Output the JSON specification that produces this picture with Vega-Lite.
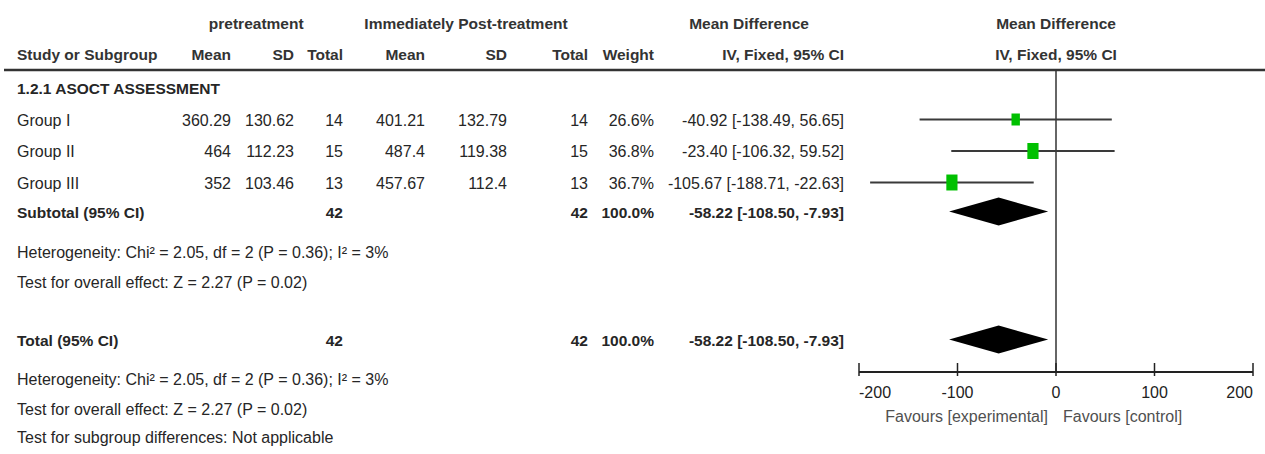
{
  "$schema": "https://vega.github.io/schema/vega-lite/v6.json",
  "width": 1265,
  "height": 454,
  "padding": 0,
  "autosize": {"type": "none"},
  "background": "white",
  "config": {
    "view": {"stroke": null},
    "text": {"font": "Liberation Sans", "fontSize": 16, "baseline": "middle", "color": "#262626", "dy": 1}
  },
  "datasets": {
    "rows": [
      {"row": 4, "kind": "study", "label": "Group I", "m1": 360.29, "s1": 130.62, "n1": 14, "m2": 401.21, "s2": 132.79, "n2": 14, "weight": 0.266, "md": -40.92, "lo": -138.49, "hi": 56.65, "ci": "-40.92 [-138.49, 56.65]"},
      {"row": 5, "kind": "study", "label": "Group II", "m1": 464, "s1": 112.23, "n1": 15, "m2": 487.4, "s2": 119.38, "n2": 15, "weight": 0.368, "md": -23.40, "lo": -106.32, "hi": 59.52, "ci": "-23.40 [-106.32, 59.52]"},
      {"row": 6, "kind": "study", "label": "Group III", "m1": 352, "s1": 103.46, "n1": 13, "m2": 457.67, "s2": 112.4, "n2": 13, "weight": 0.367, "md": -105.67, "lo": -188.71, "hi": -22.63, "ci": "-105.67 [-188.71, -22.63]"},
      {"row": 7, "kind": "pooled", "label": "Subtotal (95% CI)", "n1": 42, "n2": 42, "weight": 1.0, "md": -58.22, "lo": -108.50, "hi": -7.93, "ci": "-58.22 [-108.50, -7.93]"},
      {"row": 10, "kind": "pooled", "label": "Total (95% CI)", "n1": 42, "n2": 42, "weight": 1.0, "md": -58.22, "lo": -108.50, "hi": -7.93, "ci": "-58.22 [-108.50, -7.93]"}
    ],
    "notes": [
      {"row": 3, "kind": "section", "text": "1.2.1 ASOCT ASSESSMENT"},
      {"row": 8, "kind": "note", "text": "Heterogeneity: Chi² = 2.05, df = 2 (P = 0.36); I² = 3%"},
      {"row": 9, "kind": "note", "text": "Test for overall effect: Z = 2.27 (P = 0.02)"},
      {"row": 14, "kind": "note", "text": "Heterogeneity: Chi² = 2.05, df = 2 (P = 0.36); I² = 3%"},
      {"row": 16, "kind": "note", "text": "Test for overall effect: Z = 2.27 (P = 0.02)"},
      {"row": 18, "kind": "note", "text": "Test for subgroup differences: Not applicable"}
    ],
    "headers": [
      {"row": 0, "col": 1.4, "text": "pretreatment"},
      {"row": 0, "col": 4.5, "text": "Immediately Post-treatment"},
      {"row": 0, "col": 7.5, "text": "Mean Difference"},
      {"row": 1, "col": 0, "text": "Study or Subgroup"},
      {"row": 1, "col": 1, "text": "Mean"},
      {"row": 1, "col": 2, "text": "SD"},
      {"row": 1, "col": 3, "text": "Total"},
      {"row": 1, "col": 4, "text": "Mean"},
      {"row": 1, "col": 5, "text": "SD"},
      {"row": 1, "col": 6, "text": "Total"},
      {"row": 1, "col": 7, "text": "Weight"},
      {"row": 1, "col": 8, "text": "IV, Fixed, 95% CI"}
    ],
    "plotHeaders": [
      {"row": 0, "text": "Mean Difference"},
      {"row": 1, "text": "IV, Fixed, 95% CI"}
    ],
    "ticks": [{"v": -200}, {"v": -100}, {"v": 0}, {"v": 100}, {"v": 200}],
    "favours": [
      {"side": "left", "text": "Favours [experimental]"},
      {"side": "right", "text": "Favours [control]"}
    ],
    "frame": [{"part": "line"}]
  },
  "layer": [
    {
      "layer": [
        {
          "data": {"name": "frame"},
          "mark": {"type": "rule", "color": "#333333", "strokeWidth": 2.5},
          "encoding": {
            "x": {"datum": -1, "type": "quantitative", "scale": {"domain": [-1,0,1,2,3,4,5,6,7,8,9], "range": [4,17,231,294,343,425,507,588,654,844,1265], "nice": false, "zero": false}, "axis": null},
            "x2": {"datum": 9},
            "y": {"datum": 2, "type": "quantitative", "scale": {"domain": [0,1,2,3,4,5,6,7,8,9,10,11,12,13,14,15,16,17,18], "range": [23,54,70,87.5,119.5,151,182.5,211.5,252,282,339.5,363,372,376,379,391.5,409,416,437], "nice": false, "zero": false}, "axis": null}
          }
        },
        {
          "data": {"name": "headers"},
          "transform": [{"filter": "datum.row === 0"}],
          "mark": {"type": "text", "align": "center", "fontWeight": "bold", "fontSize": 15.5, "color": "#333333"},
          "encoding": {
            "x": {"field": "col", "type": "quantitative", "scale": {"domain": [-1,0,1,2,3,4,5,6,7,8,9], "range": [4,17,231,294,343,425,507,588,654,844,1265], "nice": false, "zero": false}, "axis": null},
            "y": {"field": "row", "type": "quantitative", "scale": {"domain": [0,1,2,3,4,5,6,7,8,9,10,11,12,13,14,15,16,17,18], "range": [23,54,70,87.5,119.5,151,182.5,211.5,252,282,339.5,363,372,376,379,391.5,409,416,437], "nice": false, "zero": false}, "axis": null},
            "text": {"field": "text", "type": "nominal"}
          }
        },
        {
          "data": {"name": "headers"},
          "transform": [{"filter": "datum.row === 1 && datum.col === 0"}],
          "mark": {"type": "text", "align": "left", "fontWeight": "bold", "fontSize": 15.5, "color": "#333333"},
          "encoding": {
            "x": {"field": "col", "type": "quantitative", "scale": {"domain": [-1,0,1,2,3,4,5,6,7,8,9], "range": [4,17,231,294,343,425,507,588,654,844,1265], "nice": false, "zero": false}, "axis": null},
            "y": {"field": "row", "type": "quantitative", "scale": {"domain": [0,1,2,3,4,5,6,7,8,9,10,11,12,13,14,15,16,17,18], "range": [23,54,70,87.5,119.5,151,182.5,211.5,252,282,339.5,363,372,376,379,391.5,409,416,437], "nice": false, "zero": false}, "axis": null},
            "text": {"field": "text", "type": "nominal"}
          }
        },
        {
          "data": {"name": "headers"},
          "transform": [{"filter": "datum.row === 1 && datum.col > 0"}],
          "mark": {"type": "text", "align": "right", "fontWeight": "bold", "fontSize": 15.5, "color": "#333333"},
          "encoding": {
            "x": {"field": "col", "type": "quantitative", "scale": {"domain": [-1,0,1,2,3,4,5,6,7,8,9], "range": [4,17,231,294,343,425,507,588,654,844,1265], "nice": false, "zero": false}, "axis": null},
            "y": {"field": "row", "type": "quantitative", "scale": {"domain": [0,1,2,3,4,5,6,7,8,9,10,11,12,13,14,15,16,17,18], "range": [23,54,70,87.5,119.5,151,182.5,211.5,252,282,339.5,363,372,376,379,391.5,409,416,437], "nice": false, "zero": false}, "axis": null},
            "text": {"field": "text", "type": "nominal"}
          }
        },
        {
          "data": {"name": "rows"},
          "transform": [{"filter": "datum.kind === 'study'"}],
          "mark": {"type": "text", "align": "left"},
          "encoding": {
            "x": {"datum": 0, "type": "quantitative", "scale": {"domain": [-1,0,1,2,3,4,5,6,7,8,9], "range": [4,17,231,294,343,425,507,588,654,844,1265], "nice": false, "zero": false}, "axis": null},
            "y": {"field": "row", "type": "quantitative", "scale": {"domain": [0,1,2,3,4,5,6,7,8,9,10,11,12,13,14,15,16,17,18], "range": [23,54,70,87.5,119.5,151,182.5,211.5,252,282,339.5,363,372,376,379,391.5,409,416,437], "nice": false, "zero": false}, "axis": null},
            "text": {"field": "label", "type": "nominal"}
          }
        },
        {
          "data": {"name": "rows"},
          "transform": [{"filter": "datum.kind === 'pooled'"}],
          "mark": {"type": "text", "align": "left", "fontWeight": "bold", "fontSize": 15.5},
          "encoding": {
            "x": {"datum": 0, "type": "quantitative", "scale": {"domain": [-1,0,1,2,3,4,5,6,7,8,9], "range": [4,17,231,294,343,425,507,588,654,844,1265], "nice": false, "zero": false}, "axis": null},
            "y": {"field": "row", "type": "quantitative", "scale": {"domain": [0,1,2,3,4,5,6,7,8,9,10,11,12,13,14,15,16,17,18], "range": [23,54,70,87.5,119.5,151,182.5,211.5,252,282,339.5,363,372,376,379,391.5,409,416,437], "nice": false, "zero": false}, "axis": null},
            "text": {"field": "label", "type": "nominal"}
          }
        },
        {
          "data": {"name": "rows"},
          "transform": [{"filter": "datum.kind === 'study'"}],
          "mark": {"type": "text", "align": "right"},
          "encoding": {
            "x": {"datum": 1, "type": "quantitative", "scale": {"domain": [-1,0,1,2,3,4,5,6,7,8,9], "range": [4,17,231,294,343,425,507,588,654,844,1265], "nice": false, "zero": false}, "axis": null},
            "y": {"field": "row", "type": "quantitative", "scale": {"domain": [0,1,2,3,4,5,6,7,8,9,10,11,12,13,14,15,16,17,18], "range": [23,54,70,87.5,119.5,151,182.5,211.5,252,282,339.5,363,372,376,379,391.5,409,416,437], "nice": false, "zero": false}, "axis": null},
            "text": {"field": "m1", "type": "nominal"}
          }
        },
        {
          "data": {"name": "rows"},
          "transform": [{"filter": "datum.kind === 'study'"}],
          "mark": {"type": "text", "align": "right"},
          "encoding": {
            "x": {"datum": 2, "type": "quantitative", "scale": {"domain": [-1,0,1,2,3,4,5,6,7,8,9], "range": [4,17,231,294,343,425,507,588,654,844,1265], "nice": false, "zero": false}, "axis": null},
            "y": {"field": "row", "type": "quantitative", "scale": {"domain": [0,1,2,3,4,5,6,7,8,9,10,11,12,13,14,15,16,17,18], "range": [23,54,70,87.5,119.5,151,182.5,211.5,252,282,339.5,363,372,376,379,391.5,409,416,437], "nice": false, "zero": false}, "axis": null},
            "text": {"field": "s1", "type": "nominal"}
          }
        },
        {
          "data": {"name": "rows"},
          "transform": [{"filter": "datum.kind === 'study'"}],
          "mark": {"type": "text", "align": "right"},
          "encoding": {
            "x": {"datum": 3, "type": "quantitative", "scale": {"domain": [-1,0,1,2,3,4,5,6,7,8,9], "range": [4,17,231,294,343,425,507,588,654,844,1265], "nice": false, "zero": false}, "axis": null},
            "y": {"field": "row", "type": "quantitative", "scale": {"domain": [0,1,2,3,4,5,6,7,8,9,10,11,12,13,14,15,16,17,18], "range": [23,54,70,87.5,119.5,151,182.5,211.5,252,282,339.5,363,372,376,379,391.5,409,416,437], "nice": false, "zero": false}, "axis": null},
            "text": {"field": "n1", "type": "nominal"}
          }
        },
        {
          "data": {"name": "rows"},
          "transform": [{"filter": "datum.kind === 'pooled'"}],
          "mark": {"type": "text", "align": "right", "fontWeight": "bold", "fontSize": 15.5},
          "encoding": {
            "x": {"datum": 3, "type": "quantitative", "scale": {"domain": [-1,0,1,2,3,4,5,6,7,8,9], "range": [4,17,231,294,343,425,507,588,654,844,1265], "nice": false, "zero": false}, "axis": null},
            "y": {"field": "row", "type": "quantitative", "scale": {"domain": [0,1,2,3,4,5,6,7,8,9,10,11,12,13,14,15,16,17,18], "range": [23,54,70,87.5,119.5,151,182.5,211.5,252,282,339.5,363,372,376,379,391.5,409,416,437], "nice": false, "zero": false}, "axis": null},
            "text": {"field": "n1", "type": "nominal"}
          }
        },
        {
          "data": {"name": "rows"},
          "transform": [{"filter": "datum.kind === 'study'"}],
          "mark": {"type": "text", "align": "right"},
          "encoding": {
            "x": {"datum": 4, "type": "quantitative", "scale": {"domain": [-1,0,1,2,3,4,5,6,7,8,9], "range": [4,17,231,294,343,425,507,588,654,844,1265], "nice": false, "zero": false}, "axis": null},
            "y": {"field": "row", "type": "quantitative", "scale": {"domain": [0,1,2,3,4,5,6,7,8,9,10,11,12,13,14,15,16,17,18], "range": [23,54,70,87.5,119.5,151,182.5,211.5,252,282,339.5,363,372,376,379,391.5,409,416,437], "nice": false, "zero": false}, "axis": null},
            "text": {"field": "m2", "type": "nominal"}
          }
        },
        {
          "data": {"name": "rows"},
          "transform": [{"filter": "datum.kind === 'study'"}],
          "mark": {"type": "text", "align": "right"},
          "encoding": {
            "x": {"datum": 5, "type": "quantitative", "scale": {"domain": [-1,0,1,2,3,4,5,6,7,8,9], "range": [4,17,231,294,343,425,507,588,654,844,1265], "nice": false, "zero": false}, "axis": null},
            "y": {"field": "row", "type": "quantitative", "scale": {"domain": [0,1,2,3,4,5,6,7,8,9,10,11,12,13,14,15,16,17,18], "range": [23,54,70,87.5,119.5,151,182.5,211.5,252,282,339.5,363,372,376,379,391.5,409,416,437], "nice": false, "zero": false}, "axis": null},
            "text": {"field": "s2", "type": "nominal"}
          }
        },
        {
          "data": {"name": "rows"},
          "transform": [{"filter": "datum.kind === 'study'"}],
          "mark": {"type": "text", "align": "right"},
          "encoding": {
            "x": {"datum": 6, "type": "quantitative", "scale": {"domain": [-1,0,1,2,3,4,5,6,7,8,9], "range": [4,17,231,294,343,425,507,588,654,844,1265], "nice": false, "zero": false}, "axis": null},
            "y": {"field": "row", "type": "quantitative", "scale": {"domain": [0,1,2,3,4,5,6,7,8,9,10,11,12,13,14,15,16,17,18], "range": [23,54,70,87.5,119.5,151,182.5,211.5,252,282,339.5,363,372,376,379,391.5,409,416,437], "nice": false, "zero": false}, "axis": null},
            "text": {"field": "n2", "type": "nominal"}
          }
        },
        {
          "data": {"name": "rows"},
          "transform": [{"filter": "datum.kind === 'pooled'"}],
          "mark": {"type": "text", "align": "right", "fontWeight": "bold", "fontSize": 15.5},
          "encoding": {
            "x": {"datum": 6, "type": "quantitative", "scale": {"domain": [-1,0,1,2,3,4,5,6,7,8,9], "range": [4,17,231,294,343,425,507,588,654,844,1265], "nice": false, "zero": false}, "axis": null},
            "y": {"field": "row", "type": "quantitative", "scale": {"domain": [0,1,2,3,4,5,6,7,8,9,10,11,12,13,14,15,16,17,18], "range": [23,54,70,87.5,119.5,151,182.5,211.5,252,282,339.5,363,372,376,379,391.5,409,416,437], "nice": false, "zero": false}, "axis": null},
            "text": {"field": "n2", "type": "nominal"}
          }
        },
        {
          "data": {"name": "rows"},
          "transform": [{"filter": "datum.kind === 'study'"}],
          "mark": {"type": "text", "align": "right"},
          "encoding": {
            "x": {"datum": 7, "type": "quantitative", "scale": {"domain": [-1,0,1,2,3,4,5,6,7,8,9], "range": [4,17,231,294,343,425,507,588,654,844,1265], "nice": false, "zero": false}, "axis": null},
            "y": {"field": "row", "type": "quantitative", "scale": {"domain": [0,1,2,3,4,5,6,7,8,9,10,11,12,13,14,15,16,17,18], "range": [23,54,70,87.5,119.5,151,182.5,211.5,252,282,339.5,363,372,376,379,391.5,409,416,437], "nice": false, "zero": false}, "axis": null},
            "text": {"field": "weight", "type": "quantitative", "format": ".1%"}
          }
        },
        {
          "data": {"name": "rows"},
          "transform": [{"filter": "datum.kind === 'pooled'"}],
          "mark": {"type": "text", "align": "right", "fontWeight": "bold", "fontSize": 15.5},
          "encoding": {
            "x": {"datum": 7, "type": "quantitative", "scale": {"domain": [-1,0,1,2,3,4,5,6,7,8,9], "range": [4,17,231,294,343,425,507,588,654,844,1265], "nice": false, "zero": false}, "axis": null},
            "y": {"field": "row", "type": "quantitative", "scale": {"domain": [0,1,2,3,4,5,6,7,8,9,10,11,12,13,14,15,16,17,18], "range": [23,54,70,87.5,119.5,151,182.5,211.5,252,282,339.5,363,372,376,379,391.5,409,416,437], "nice": false, "zero": false}, "axis": null},
            "text": {"field": "weight", "type": "quantitative", "format": ".1%"}
          }
        },
        {
          "data": {"name": "rows"},
          "transform": [{"filter": "datum.kind === 'study'"}],
          "mark": {"type": "text", "align": "right"},
          "encoding": {
            "x": {"datum": 8, "type": "quantitative", "scale": {"domain": [-1,0,1,2,3,4,5,6,7,8,9], "range": [4,17,231,294,343,425,507,588,654,844,1265], "nice": false, "zero": false}, "axis": null},
            "y": {"field": "row", "type": "quantitative", "scale": {"domain": [0,1,2,3,4,5,6,7,8,9,10,11,12,13,14,15,16,17,18], "range": [23,54,70,87.5,119.5,151,182.5,211.5,252,282,339.5,363,372,376,379,391.5,409,416,437], "nice": false, "zero": false}, "axis": null},
            "text": {"field": "ci", "type": "nominal"}
          }
        },
        {
          "data": {"name": "rows"},
          "transform": [{"filter": "datum.kind === 'pooled'"}],
          "mark": {"type": "text", "align": "right", "fontWeight": "bold", "fontSize": 15.5},
          "encoding": {
            "x": {"datum": 8, "type": "quantitative", "scale": {"domain": [-1,0,1,2,3,4,5,6,7,8,9], "range": [4,17,231,294,343,425,507,588,654,844,1265], "nice": false, "zero": false}, "axis": null},
            "y": {"field": "row", "type": "quantitative", "scale": {"domain": [0,1,2,3,4,5,6,7,8,9,10,11,12,13,14,15,16,17,18], "range": [23,54,70,87.5,119.5,151,182.5,211.5,252,282,339.5,363,372,376,379,391.5,409,416,437], "nice": false, "zero": false}, "axis": null},
            "text": {"field": "ci", "type": "nominal"}
          }
        },
        {
          "data": {"name": "notes"},
          "transform": [{"filter": "datum.kind === 'note'"}],
          "mark": {"type": "text", "align": "left"},
          "encoding": {
            "x": {"datum": 0, "type": "quantitative", "scale": {"domain": [-1,0,1,2,3,4,5,6,7,8,9], "range": [4,17,231,294,343,425,507,588,654,844,1265], "nice": false, "zero": false}, "axis": null},
            "y": {"field": "row", "type": "quantitative", "scale": {"domain": [0,1,2,3,4,5,6,7,8,9,10,11,12,13,14,15,16,17,18], "range": [23,54,70,87.5,119.5,151,182.5,211.5,252,282,339.5,363,372,376,379,391.5,409,416,437], "nice": false, "zero": false}, "axis": null},
            "text": {"field": "text", "type": "nominal"}
          }
        },
        {
          "data": {"name": "notes"},
          "transform": [{"filter": "datum.kind === 'section'"}],
          "mark": {"type": "text", "align": "left", "fontWeight": "bold", "fontSize": 15.5},
          "encoding": {
            "x": {"datum": 0, "type": "quantitative", "scale": {"domain": [-1,0,1,2,3,4,5,6,7,8,9], "range": [4,17,231,294,343,425,507,588,654,844,1265], "nice": false, "zero": false}, "axis": null},
            "y": {"field": "row", "type": "quantitative", "scale": {"domain": [0,1,2,3,4,5,6,7,8,9,10,11,12,13,14,15,16,17,18], "range": [23,54,70,87.5,119.5,151,182.5,211.5,252,282,339.5,363,372,376,379,391.5,409,416,437], "nice": false, "zero": false}, "axis": null},
            "text": {"field": "text", "type": "nominal"}
          }
        }
      ]
    },
    {
      "layer": [
        {
          "data": {"name": "frame"},
          "mark": {"type": "rule", "color": "#333333", "strokeWidth": 1.5},
          "encoding": {
            "x": {"datum": 0, "type": "quantitative", "scale": {"domain": [-200, 200], "range": [859, 1253], "nice": false, "zero": false}, "axis": null},
            "y": {"datum": 2, "type": "quantitative", "scale": {"domain": [0,1,2,3,4,5,6,7,8,9,10,11,12,13,14,15,16,17,18], "range": [23,54,70,87.5,119.5,151,182.5,211.5,252,282,339.5,363,372,376,379,391.5,409,416,437], "nice": false, "zero": false}, "axis": null},
            "y2": {"datum": 12}
          }
        },
        {
          "data": {"name": "rows"},
          "transform": [{"filter": "datum.kind === 'study'"}],
          "mark": {"type": "rule", "color": "#3a3a3a", "strokeWidth": 2},
          "encoding": {
            "x": {"field": "lo", "type": "quantitative", "scale": {"domain": [-200, 200], "range": [859, 1253], "nice": false, "zero": false}, "axis": null},
            "x2": {"field": "hi"},
            "y": {"field": "row", "type": "quantitative", "scale": {"domain": [0,1,2,3,4,5,6,7,8,9,10,11,12,13,14,15,16,17,18], "range": [23,54,70,87.5,119.5,151,182.5,211.5,252,282,339.5,363,372,376,379,391.5,409,416,437], "nice": false, "zero": false}, "axis": null}
          }
        },
        {
          "data": {"name": "rows"},
          "transform": [{"filter": "datum.kind === 'study'"}],
          "mark": {"type": "point", "shape": "M-0.7,-1L0.7,-1L0.7,1L-0.7,1Z", "filled": true, "opacity": 1, "color": "#00c000", "strokeWidth": 0},
          "encoding": {
            "x": {"field": "md", "type": "quantitative", "scale": {"domain": [-200, 200], "range": [859, 1253], "nice": false, "zero": false}, "axis": null},
            "y": {"field": "row", "type": "quantitative", "scale": {"domain": [0,1,2,3,4,5,6,7,8,9,10,11,12,13,14,15,16,17,18], "range": [23,54,70,87.5,119.5,151,182.5,211.5,252,282,339.5,363,372,376,379,391.5,409,416,437], "nice": false, "zero": false}, "axis": null},
            "size": {"field": "weight", "type": "quantitative", "scale": {"domain": [0.266, 0.368], "range": [144, 256], "zero": false}, "legend": null}
          }
        },
        {
          "data": {"name": "rows"},
          "transform": [
            {"filter": "datum.kind === 'pooled'"},
            {"calculate": "datum.hi - datum.lo", "as": "span"}
          ],
          "mark": {"type": "point", "shape": "M-1,0L0,-0.283L1,0L0,0.283Z", "filled": true, "opacity": 1, "color": "#000000", "strokeWidth": 0},
          "encoding": {
            "x": {"field": "md", "type": "quantitative", "scale": {"domain": [-200, 200], "range": [859, 1253], "nice": false, "zero": false}, "axis": null},
            "y": {"field": "row", "type": "quantitative", "scale": {"domain": [0,1,2,3,4,5,6,7,8,9,10,11,12,13,14,15,16,17,18], "range": [23,54,70,87.5,119.5,151,182.5,211.5,252,282,339.5,363,372,376,379,391.5,409,416,437], "nice": false, "zero": false}, "axis": null},
            "size": {"field": "span", "type": "quantitative", "scale": {"type": "pow", "exponent": 2, "domain": [0, 400], "range": [0, 155236]}, "legend": null}
          }
        },
        {
          "data": {"name": "frame"},
          "mark": {"type": "rule", "color": "#222222", "strokeWidth": 2},
          "encoding": {
            "x": {"datum": -200, "type": "quantitative", "scale": {"domain": [-200, 200], "range": [859, 1253], "nice": false, "zero": false}, "axis": null},
            "x2": {"datum": 200},
            "y": {"datum": 12, "type": "quantitative", "scale": {"domain": [0,1,2,3,4,5,6,7,8,9,10,11,12,13,14,15,16,17,18], "range": [23,54,70,87.5,119.5,151,182.5,211.5,252,282,339.5,363,372,376,379,391.5,409,416,437], "nice": false, "zero": false}, "axis": null}
          }
        },
        {
          "data": {"name": "ticks"},
          "mark": {"type": "rule", "color": "#222222", "strokeWidth": 1.5},
          "encoding": {
            "x": {"field": "v", "type": "quantitative", "scale": {"domain": [-200, 200], "range": [859, 1253], "nice": false, "zero": false}, "axis": null},
            "y": {"datum": 11, "type": "quantitative", "scale": {"domain": [0,1,2,3,4,5,6,7,8,9,10,11,12,13,14,15,16,17,18], "range": [23,54,70,87.5,119.5,151,182.5,211.5,252,282,339.5,363,372,376,379,391.5,409,416,437], "nice": false, "zero": false}, "axis": null},
            "y2": {"datum": 13}
          }
        },
        {
          "data": {"name": "ticks"},
          "transform": [{"filter": "datum.v === -200"}],
          "mark": {"type": "text", "align": "left", "color": "#222222"},
          "encoding": {
            "x": {"field": "v", "type": "quantitative", "scale": {"domain": [-200, 200], "range": [859, 1253], "nice": false, "zero": false}, "axis": null},
            "y": {"datum": 15, "type": "quantitative", "scale": {"domain": [0,1,2,3,4,5,6,7,8,9,10,11,12,13,14,15,16,17,18], "range": [23,54,70,87.5,119.5,151,182.5,211.5,252,282,339.5,363,372,376,379,391.5,409,416,437], "nice": false, "zero": false}, "axis": null},
            "text": {"field": "v", "type": "nominal"}
          }
        },
        {
          "data": {"name": "ticks"},
          "transform": [{"filter": "datum.v > -200 && datum.v < 200"}],
          "mark": {"type": "text", "align": "center", "color": "#222222"},
          "encoding": {
            "x": {"field": "v", "type": "quantitative", "scale": {"domain": [-200, 200], "range": [859, 1253], "nice": false, "zero": false}, "axis": null},
            "y": {"datum": 15, "type": "quantitative", "scale": {"domain": [0,1,2,3,4,5,6,7,8,9,10,11,12,13,14,15,16,17,18], "range": [23,54,70,87.5,119.5,151,182.5,211.5,252,282,339.5,363,372,376,379,391.5,409,416,437], "nice": false, "zero": false}, "axis": null},
            "text": {"field": "v", "type": "nominal"}
          }
        },
        {
          "data": {"name": "ticks"},
          "transform": [{"filter": "datum.v === 200"}],
          "mark": {"type": "text", "align": "right", "color": "#222222"},
          "encoding": {
            "x": {"field": "v", "type": "quantitative", "scale": {"domain": [-200, 200], "range": [859, 1253], "nice": false, "zero": false}, "axis": null},
            "y": {"datum": 15, "type": "quantitative", "scale": {"domain": [0,1,2,3,4,5,6,7,8,9,10,11,12,13,14,15,16,17,18], "range": [23,54,70,87.5,119.5,151,182.5,211.5,252,282,339.5,363,372,376,379,391.5,409,416,437], "nice": false, "zero": false}, "axis": null},
            "text": {"field": "v", "type": "nominal"}
          }
        },
        {
          "data": {"name": "favours"},
          "transform": [{"filter": "datum.side === 'left'"}],
          "mark": {"type": "text", "align": "right", "dx": -8, "color": "#505050"},
          "encoding": {
            "x": {"datum": 0, "type": "quantitative", "scale": {"domain": [-200, 200], "range": [859, 1253], "nice": false, "zero": false}, "axis": null},
            "y": {"datum": 17, "type": "quantitative", "scale": {"domain": [0,1,2,3,4,5,6,7,8,9,10,11,12,13,14,15,16,17,18], "range": [23,54,70,87.5,119.5,151,182.5,211.5,252,282,339.5,363,372,376,379,391.5,409,416,437], "nice": false, "zero": false}, "axis": null},
            "text": {"field": "text", "type": "nominal"}
          }
        },
        {
          "data": {"name": "favours"},
          "transform": [{"filter": "datum.side === 'right'"}],
          "mark": {"type": "text", "align": "left", "dx": 7, "color": "#505050"},
          "encoding": {
            "x": {"datum": 0, "type": "quantitative", "scale": {"domain": [-200, 200], "range": [859, 1253], "nice": false, "zero": false}, "axis": null},
            "y": {"datum": 17, "type": "quantitative", "scale": {"domain": [0,1,2,3,4,5,6,7,8,9,10,11,12,13,14,15,16,17,18], "range": [23,54,70,87.5,119.5,151,182.5,211.5,252,282,339.5,363,372,376,379,391.5,409,416,437], "nice": false, "zero": false}, "axis": null},
            "text": {"field": "text", "type": "nominal"}
          }
        },
        {
          "data": {"name": "plotHeaders"},
          "mark": {"type": "text", "align": "center", "fontWeight": "bold", "fontSize": 15.5, "color": "#333333"},
          "encoding": {
            "x": {"datum": 0, "type": "quantitative", "scale": {"domain": [-200, 200], "range": [859, 1253], "nice": false, "zero": false}, "axis": null},
            "y": {"field": "row", "type": "quantitative", "scale": {"domain": [0,1,2,3,4,5,6,7,8,9,10,11,12,13,14,15,16,17,18], "range": [23,54,70,87.5,119.5,151,182.5,211.5,252,282,339.5,363,372,376,379,391.5,409,416,437], "nice": false, "zero": false}, "axis": null},
            "text": {"field": "text", "type": "nominal"}
          }
        }
      ],
      "resolve": {"scale": {"size": "independent"}}
    }
  ],
  "resolve": {"scale": {"x": "independent"}}
}
